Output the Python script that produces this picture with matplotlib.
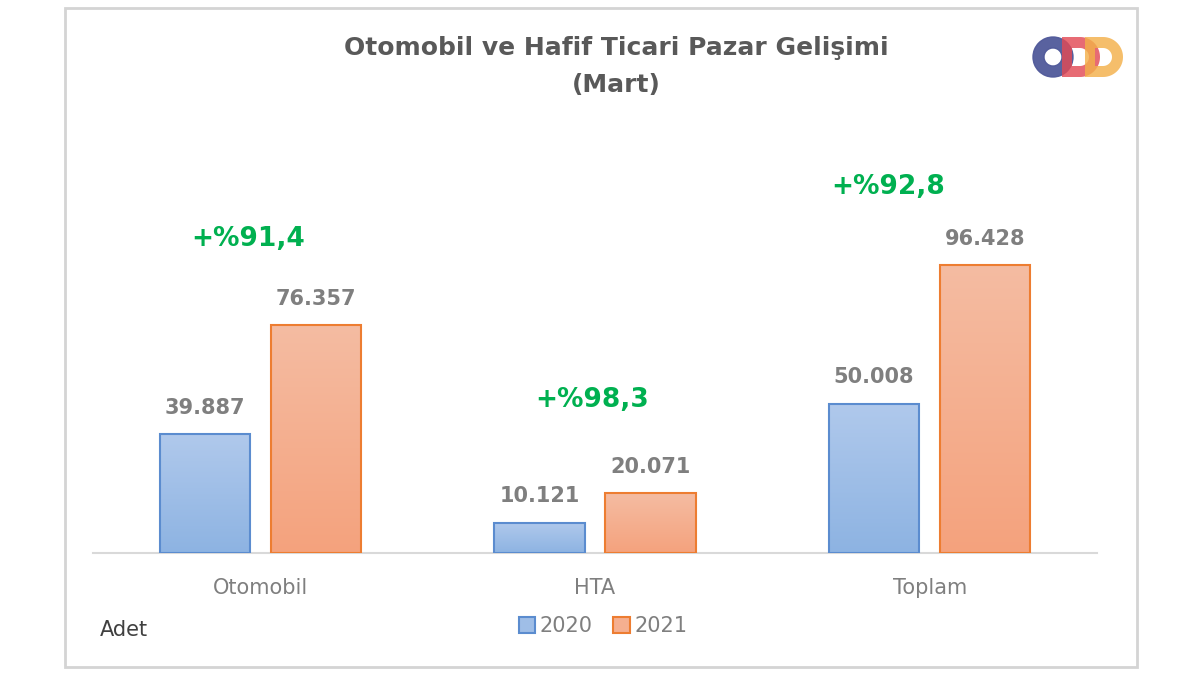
import numpy as np
import matplotlib
matplotlib.use("Agg")
import matplotlib.pyplot as plt
from matplotlib.patches import Rectangle, Wedge, PathPatch
from matplotlib.path import Path
from matplotlib.colors import LinearSegmentedColormap

plt.rcParams["font.family"] = ["DejaVu Sans"]

categories = ["Otomobil", "HTA", "Toplam"]
series = ["2020", "2021"]
v2020 = [39887, 10121, 50008]
v2021 = [76357, 20071, 96428]
growth = ["+%91,4", "+%98,3", "+%92,8"]
value_labels_2020 = ["39.887", "10.121", "50.008"]
value_labels_2021 = ["76.357", "20.071", "96.428"]

GRAY = "#7f7f7f"
GREEN = "#00b050"

fig = plt.figure(figsize=(12, 6.75), dpi=100)
fig.patch.set_facecolor("white")

# outer frame
fig.add_artist(Rectangle((65 / 1200, 1 - 667 / 675), (1137 - 65) / 1200, (667 - 8) / 675,
                         transform=fig.transFigure, fill=False, ec="#d4d4d4", lw=2))

ax = fig.add_axes([93 / 1200, 122 / 675, 1004 / 1200, 358 / 675])
for s in ["top", "right", "left"]:
    ax.spines[s].set_visible(False)
ax.spines["bottom"].set_color("#d9d9d9")
ax.spines["bottom"].set_linewidth(1.5)
ax.set_yticks([])
ax.set_xticks(range(len(categories)))
ax.set_xticklabels(categories, fontsize=15, color=GRAY)
ax.tick_params(axis="x", length=0, pad=18)

x = np.arange(len(categories))
w = 0.27
off = 0.166

blue_cm = LinearSegmentedColormap.from_list("b", ["#8db3e2", "#b0c9ec"])
orange_cm = LinearSegmentedColormap.from_list("o", ["#f4a27d", "#f5bca2"])


def gradient_bars(xs, vals, cmap, ec, label):
    bars = ax.bar(xs, vals, w, color=cmap(0.5), edgecolor=ec, linewidth=1.5, label=label, zorder=3)
    for b in bars:
        grad = np.linspace(0, 1, 256).reshape(-1, 1)
        im = ax.imshow(grad, cmap=cmap, aspect="auto", origin="lower",
                       extent=[b.get_x(), b.get_x() + b.get_width(), 0, b.get_height()], zorder=3.5)
        im.set_clip_path(b)
        b.set_facecolor("none")
        b.set_zorder(4)
    return bars


b1 = gradient_bars(x - off, v2020, blue_cm, "#5b8ccf", series[0])
b2 = gradient_bars(x + off, v2021, orange_cm, "#ed7d31", series[1])
ax.set_xlim(-0.5, 2.5)
ax.set_ylim(0, 120000)

for xi, v, t in zip(x - off, v2020, value_labels_2020):
    ax.text(xi, v + 5500, t, ha="center", va="bottom", fontsize=15, fontweight="bold", color=GRAY)
for xi, v, t in zip(x + off, v2021, value_labels_2021):
    ax.text(xi, v + 5500, t, ha="center", va="bottom", fontsize=15, fontweight="bold", color=GRAY)

# growth annotations (offsets from category centre)
gx = x + np.array([-0.035, -0.01, -0.125])
gy = [105400, 51300, 122800]
for xi, yi, t in zip(gx, gy, growth):
    ax.text(xi, yi, t, ha="center", va="center", fontsize=19, fontweight="bold",
            color=GREEN, clip_on=False)

# title
fig.text(616 / 1200, 1 - 48 / 675, "Otomobil ve Hafif Ticari Pazar Gelişimi", ha="center", va="center",
         fontsize=18, fontweight="bold", color="#595959")
fig.text(616 / 1200, 1 - 85 / 675, "(Mart)", ha="center", va="center",
         fontsize=18, fontweight="bold", color="#595959")

fig.text(100 / 1200, 1 - 630 / 675, "Adet", ha="left", va="center", fontsize=15, color="#404040")

leg = fig.legend(handles=[b1, b2], labels=series, loc="center", bbox_to_anchor=(603 / 1200, 1 - 626 / 675),
                 ncol=2, frameon=False, fontsize=15, handlelength=0.8, handleheight=0.8,
                 handletextpad=0.2, columnspacing=1.0)
for t in leg.get_texts():
    t.set_color(GRAY)
for h, c in zip(leg.legend_handles, [blue_cm(0.5), orange_cm(0.5)]):
    h.set_facecolor(c)

# logo
lax = fig.add_axes([1025 / 1200, 1 - 82 / 675, 105 / 1200, 50 / 675])
lax.set_xlim(1025, 1130)
lax.set_ylim(82, 32)
lax.set_aspect("equal")
lax.axis("off")


def d_path(x0, xc, cy, r):
    t = np.linspace(-np.pi / 2, np.pi / 2, 40)
    pts = [(x0, cy - r)] + [(xc + r * np.cos(a), cy + r * np.sin(a)) for a in t] + [(x0, cy + r), (x0, cy - r)]
    return np.array(pts)


cy = 57
lax.add_patch(Wedge((1053, cy), 20, 0, 360, width=11, color="#50599a", alpha=0.95))
for x0, col in [(1062, "#e24a55"), (1085, "#f3b04a")]:
    outer = d_path(x0, x0 + 18, cy, 20)
    inner = d_path(x0 + 10, x0 + 18, cy, 9)[::-1]
    verts = np.vstack([outer, inner])
    codes = ([Path.MOVETO] + [Path.LINETO] * (len(outer) - 2) + [Path.CLOSEPOLY]
             + [Path.MOVETO] + [Path.LINETO] * (len(inner) - 2) + [Path.CLOSEPOLY])
    lax.add_patch(PathPatch(Path(verts, codes), color=col, alpha=0.82, lw=0))

fig.savefig("out.png", dpi=100, facecolor="white")
